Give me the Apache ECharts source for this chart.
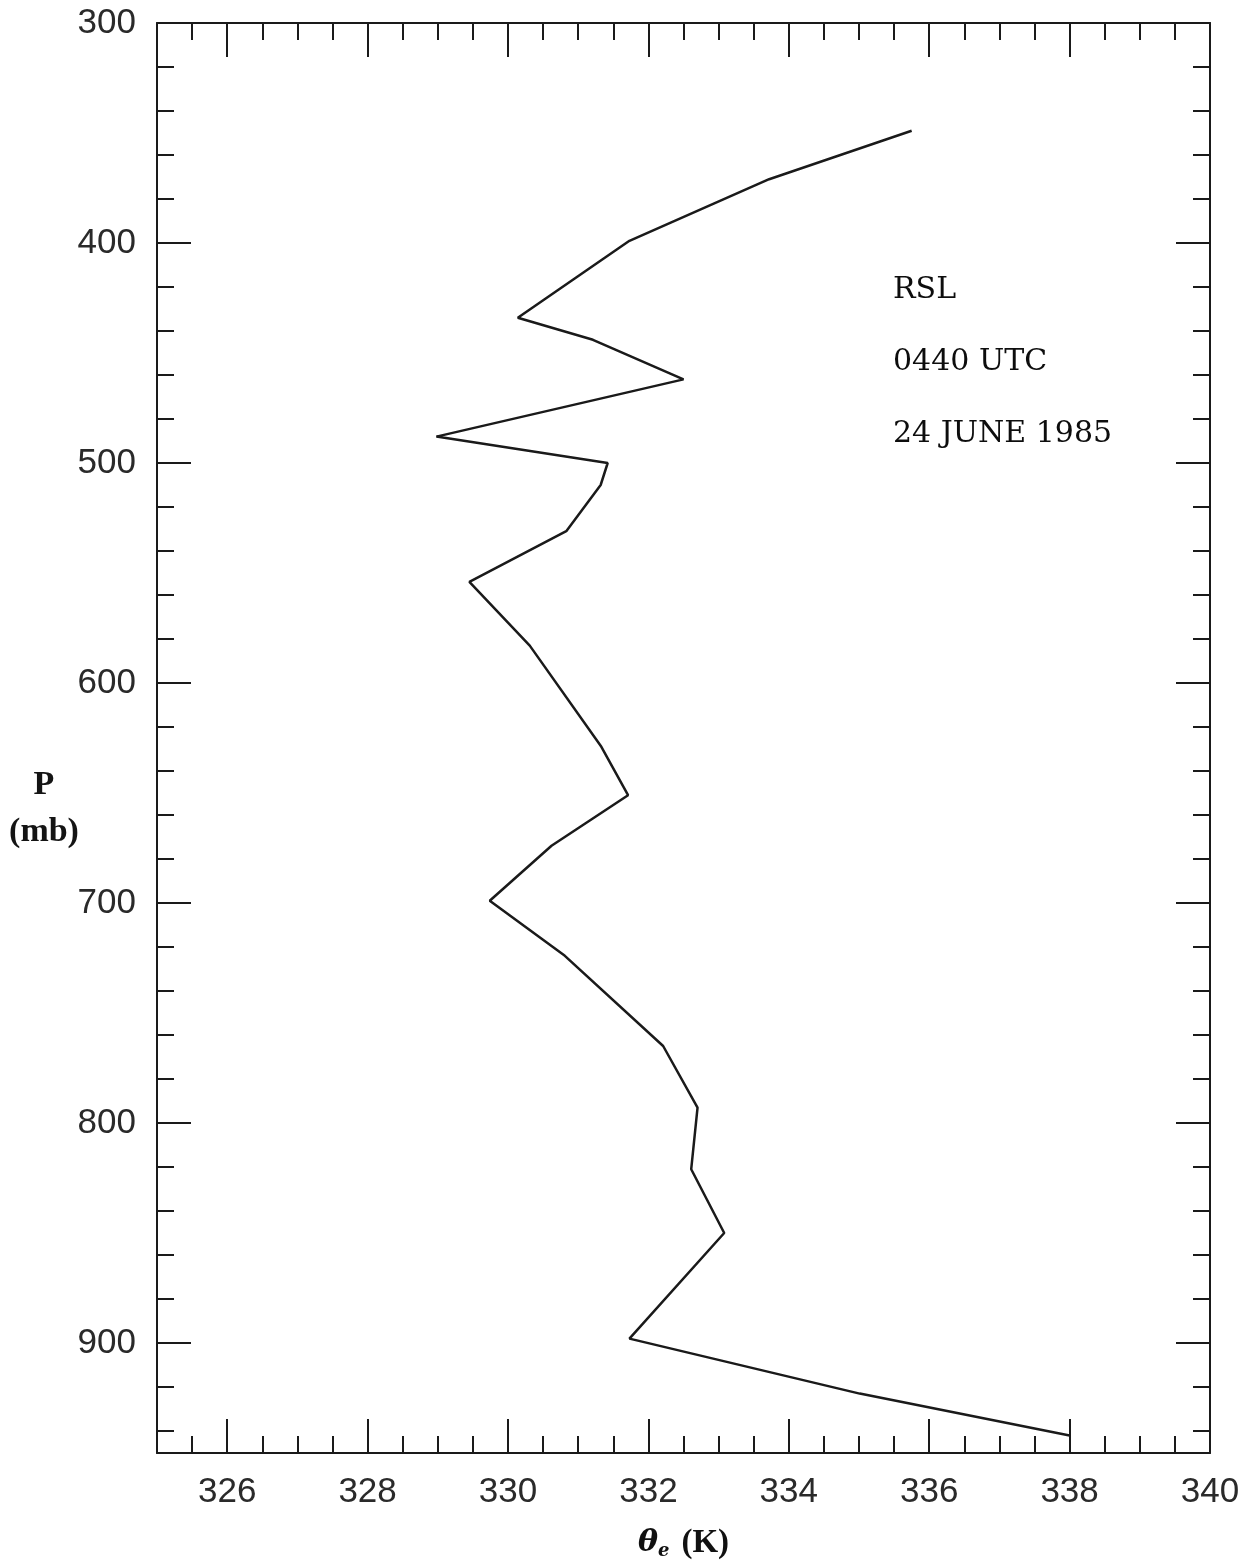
<!DOCTYPE html>
<html>
<head>
<meta charset="utf-8">
<script src="https://cdn.jsdelivr.net/npm/echarts@6/dist/echarts.min.js"></script>
<style>
html,body{margin:0;padding:0;background:#fff;}
#chart{width:1254px;height:1566px;}
</style>
</head>
<body>
<div id="chart"></div>
<script>
// ---- data ----
var thetaE   = [335.75, 333.72, 331.73, 330.14, 331.21, 332.50, 328.98, 331.42, 331.32, 330.83, 329.45, 330.31, 331.33, 331.71, 330.62, 329.74, 330.81, 332.21, 332.70, 332.61, 333.08, 331.73, 335.01, 338.00];
var pressure = [349,    371,    399,    434,    444,    462,    488,    500,    510,    531,    554,    583,    629,    651,    674,    699,    724,    765,    793,    821,    850,    898,    923,    942];
var xTickValues = [326, 328, 330, 332, 334, 336, 338, 340];
var yTickValues = [300, 400, 500, 600, 700, 800, 900];
var annotationLines = ['RSL', '0440 UTC', '24 JUNE 1985'];
var yTitleLines = ['P', '(mb)'];

var points = thetaE.map(function (t, i) { return [t, pressure[i]]; });

var chart = echarts.init(document.getElementById('chart'), null, {renderer: 'canvas'});

var lineCol = '#1a1a1a';
var tickFont = {fontFamily: 'Liberation Sans', fontSize: 35, color: '#2a2a2a'};

function majorX(pos, withLabels) {
  return {
    type: 'value', position: pos, min: 325, max: 340,
    axisLine: {show: true, onZero: false, lineStyle: {color: lineCol, width: 2}},
    axisTick: {show: true, inside: true, length: 34, customValues: xTickValues, lineStyle: {color: lineCol, width: 2}},
    axisLabel: withLabels ? Object.assign({show: true, margin: 22, customValues: xTickValues}, tickFont) : {show: false},
    splitLine: {show: false}
  };
}
function minorX(pos) {
  return {
    type: 'value', position: pos, min: 325, max: 340, interval: 0.5,
    axisLine: {show: false, onZero: false},
    axisTick: {show: true, inside: true, length: 17, lineStyle: {color: lineCol, width: 2}},
    axisLabel: {show: false}, splitLine: {show: false}
  };
}
function majorY(pos, withLabels) {
  return {
    type: 'value', position: pos, min: 300, max: 950, inverse: true,
    axisLine: {show: true, onZero: false, lineStyle: {color: lineCol, width: 2}},
    axisTick: {show: true, inside: true, length: 34, customValues: yTickValues, lineStyle: {color: lineCol, width: 2}},
    axisLabel: withLabels ? Object.assign({show: true, margin: 21, customValues: yTickValues}, tickFont) : {show: false},
    splitLine: {show: false}
  };
}
function minorY(pos) {
  return {
    type: 'value', position: pos, min: 300, max: 950, interval: 20, inverse: true,
    axisLine: {show: false, onZero: false},
    axisTick: {show: true, inside: true, length: 17, lineStyle: {color: lineCol, width: 2}},
    axisLabel: {show: false}, splitLine: {show: false}
  };
}

var xMain = majorX('bottom', true);
xMain.name = '{th|θ}{sub|e}{k|(K)}';
xMain.nameLocation = 'middle';
xMain.nameGap = 74;
xMain.nameTextStyle = {
  rich: {
    th: {fontFamily: 'DejaVu Serif', fontStyle: 'italic', fontWeight: 'bold', fontSize: 30, color: '#111'},
    sub: {fontFamily: 'DejaVu Serif', fontStyle: 'italic', fontWeight: 'bold', fontSize: 18, color: '#111', verticalAlign: 'bottom', padding: [14, 0, 0, 0]},
    k: {fontFamily: 'Liberation Serif', fontWeight: 'bold', fontSize: 33, color: '#111', padding: [0, 0, 0, 12]}
  }
};

var graphics = [];
annotationLines.forEach(function (s, i) {
  graphics.push({
    type: 'text', left: 893, top: 275 + i * 72,
    style: {text: s, fontFamily: 'DejaVu Serif', fontSize: 30, fill: '#0d0d0d'}
  });
});
yTitleLines.forEach(function (s, i) {
  graphics.push({
    type: 'text', x: 44, y: 785 + i * 47,
    style: {text: s, fontFamily: 'Liberation Serif', fontWeight: 'bold', fontSize: 34, fill: '#141414', align: 'center', verticalAlign: 'middle'}
  });
});

chart.setOption({
  backgroundColor: '#ffffff',
  animation: false,
  grid: {left: 157, top: 23, right: 44, bottom: 113, containLabel: false, outerBoundsMode: 'none'},
  xAxis: [xMain, minorX('bottom'), majorX('top', false), minorX('top')],
  yAxis: [majorY('left', true), minorY('left'), majorY('right', false), minorY('right')],
  graphic: graphics,
  series: [{
    type: 'line', xAxisIndex: 0, yAxisIndex: 0,
    data: points, symbol: 'none', smooth: false,
    lineStyle: {color: lineCol, width: 2.5}
  }]
});
</script>
</body>
</html>
